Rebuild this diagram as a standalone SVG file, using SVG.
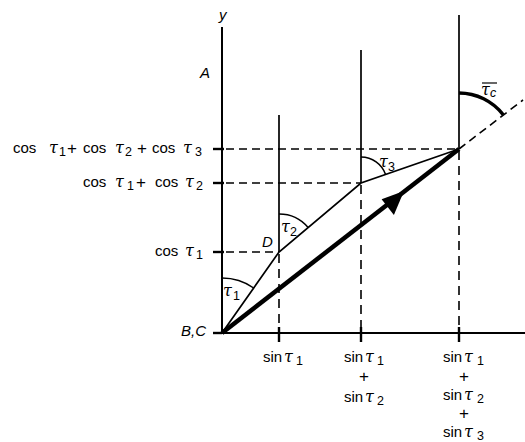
<svg xmlns="http://www.w3.org/2000/svg" width="525" height="442" viewBox="0 0 525 442">
<style>
.ax{stroke:#000;stroke-width:2;fill:none}
.ln{stroke:#000;stroke-width:1.7;fill:none}
.dh{stroke:#000;stroke-width:1.6;stroke-dasharray:8 5;fill:none}
.dv{stroke:#000;stroke-width:1.6;stroke-dasharray:9 6;fill:none}
.tk{stroke:#000;stroke-width:2.4;fill:none}
.arc{stroke:#000;stroke-width:1.5;fill:none}
.t{font-family:"Liberation Sans",Arial,sans-serif;font-size:15px;fill:#000}
.i{font-style:italic}
.g{font-family:"DejaVu Serif",serif;font-style:italic;font-size:16px}
.s{font-size:12.5px}
.p{font-size:17px}
</style>
<rect width="525" height="442" fill="#fff"/>
<g id="axes">
<line class="ax" x1="222" y1="27" x2="222" y2="334"/>
<line class="ax" x1="221" y1="333" x2="525" y2="333"/>
<line class="tk" x1="213" y1="333" x2="222" y2="333"/>
<line class="tk" x1="213" y1="252" x2="224" y2="252"/>
<line class="tk" x1="213" y1="183" x2="224" y2="183"/>
<line class="tk" x1="213" y1="149" x2="224" y2="149"/>
<line class="tk" x1="279" y1="327" x2="279" y2="342"/>
<line class="tk" x1="361" y1="327" x2="361" y2="342"/>
<line class="tk" x1="459" y1="327" x2="459" y2="342"/>
</g>
<g id="verticals">
<line class="ln" x1="279" y1="115" x2="279" y2="252"/>
<line class="ln" x1="361" y1="50" x2="361" y2="183"/>
<line class="ln" x1="459" y1="15" x2="459" y2="149"/>
</g>
<g id="dashed">
<line class="dv" x1="279" y1="254" x2="279" y2="327"/>
<line class="dv" x1="361" y1="185" x2="361" y2="327"/>
<line class="dv" x1="459" y1="151" x2="459" y2="327"/>
<line class="dh" x1="226" y1="252" x2="279" y2="252"/>
<line class="dh" x1="226" y1="183" x2="361" y2="183"/>
<line class="dh" x1="226" y1="149" x2="459" y2="149"/>
<line class="dh" x1="459" y1="149" x2="523" y2="100"/>
</g>
<g id="connectors">
<polyline class="ln" points="222,333 279,252 361,183 459,149"/>
<line stroke="#000" stroke-width="4.5" x1="222" y1="333" x2="459" y2="149"/>
<polygon points="404,191 381.6,199.2 393.9,215.1" fill="#000"/>
</g>
<g id="angles">
<path class="arc" d="M222,278 A55,55 0 0,1 253.7,288"/>
<path class="arc" d="M279,214 A38,38 0 0,1 308.1,227.5"/>
<path class="arc" d="M361,157 A26,26 0 0,1 385.6,174.5"/>
<path stroke="#000" stroke-width="3.5" fill="none" d="M459,93 A56,56 0 0,1 503.2,114.7"/>
</g>
<g id="labels" class="t">
<text x="219" y="20" class="i">y</text>
<text x="200" y="78" class="i">A</text>
<text x="206" y="336" class="i" text-anchor="end">B,C</text>
<text x="262" y="247" class="i">D</text>
<text><tspan x="223" y="296" class="g">τ</tspan><tspan x="233" y="300" class="s">1</tspan></text>
<text><tspan x="281" y="232" class="g">τ</tspan><tspan x="290" y="236" class="s">2</tspan></text>
<text><tspan x="379" y="167" class="g">τ</tspan><tspan x="388" y="171" class="s">3</tspan></text>
<text><tspan x="481" y="95" class="g">τ</tspan><tspan x="490" y="97" class="s i">c</tspan></text>
<line x1="482" y1="83" x2="497" y2="83" stroke="#000" stroke-width="1.2"/>
</g>
<g id="ylabels" class="t">
<text><tspan x="13" y="153">cos</tspan><tspan x="49" y="153" class="g">τ</tspan><tspan x="59" y="156" class="s">1</tspan><tspan x="67" y="154" class="p">+</tspan><tspan x="83" y="153">cos</tspan><tspan x="115" y="153" class="g">τ</tspan><tspan x="125" y="156" class="s">2</tspan><tspan x="137" y="154" class="p">+</tspan><tspan x="152" y="153">cos</tspan><tspan x="183" y="153" class="g">τ</tspan><tspan x="195" y="156" class="s">3</tspan></text>
<text><tspan x="83" y="187">cos</tspan><tspan x="115" y="187" class="g">τ</tspan><tspan x="127" y="190" class="s">1</tspan><tspan x="136" y="188" class="p">+</tspan><tspan x="155" y="187">cos</tspan><tspan x="185" y="187" class="g">τ</tspan><tspan x="196" y="190" class="s">2</tspan></text>
<text><tspan x="155" y="256">cos</tspan><tspan x="185" y="256" class="g">τ</tspan><tspan x="196" y="259" class="s">1</tspan></text>
</g>
<g id="xlabels" class="t">
<text><tspan x="263" y="362">sin</tspan><tspan x="284" y="362" class="g">τ</tspan><tspan x="296" y="365" class="s">1</tspan></text>
<text><tspan x="344" y="362">sin</tspan><tspan x="365" y="362" class="g">τ</tspan><tspan x="377" y="365" class="s">1</tspan></text>
<text x="359" y="382" class="p">+</text>
<text><tspan x="344" y="402">sin</tspan><tspan x="365" y="402" class="g">τ</tspan><tspan x="377" y="405" class="s">2</tspan></text>
<text><tspan x="443" y="362">sin</tspan><tspan x="464" y="362" class="g">τ</tspan><tspan x="477" y="365" class="s">1</tspan></text>
<text x="459" y="382" class="p">+</text>
<text><tspan x="443" y="400">sin</tspan><tspan x="464" y="400" class="g">τ</tspan><tspan x="477" y="403" class="s">2</tspan></text>
<text x="459" y="419" class="p">+</text>
<text><tspan x="443" y="437">sin</tspan><tspan x="464" y="437" class="g">τ</tspan><tspan x="477" y="440" class="s">3</tspan></text>
</g>
</svg>
